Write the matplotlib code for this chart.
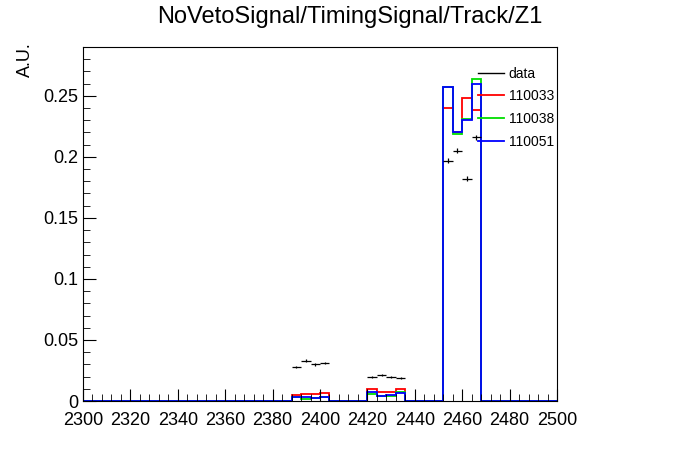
import numpy as np
import matplotlib
matplotlib.use("Agg")
import matplotlib.pyplot as plt
from matplotlib.ticker import MultipleLocator
from matplotlib.lines import Line2D

plt.rcParams['font.family'] = ['Liberation Sans', 'DejaVu Sans']

edges = np.arange(2300, 2504, 4)
def fill(d):
    v = np.zeros(len(edges) - 1)
    for k, val in d.items():
        v[np.where(edges[:-1] == k)[0][0]] = val
    return v

data_bins = [2388, 2392, 2396, 2400, 2420, 2424, 2428, 2432, 2452, 2456, 2460, 2464]
data_vals = [0.028, 0.033, 0.030, 0.031, 0.020, 0.021, 0.020, 0.019, 0.197, 0.205, 0.182, 0.216]
data_err = [0.001, 0.0012, 0.001, 0.001, 0.0008, 0.0008, 0.0008, 0.0008, 0.002, 0.002, 0.002, 0.002]
r_vals = [0.005, 0.0057, 0.0057, 0.0066, 0.0098, 0.0074, 0.0074, 0.0098, 0.240, 0.220, 0.248, 0.238]
g_vals = [0.003, 0.002, 0.0025, 0.003, 0.0057, 0.004, 0.004, 0.0074, 0.257, 0.219, 0.231, 0.264]
b_vals = [0.003, 0.003, 0.0025, 0.003, 0.0077, 0.004, 0.005, 0.0066, 0.257, 0.220, 0.230, 0.260]

fig = plt.figure(figsize=(6.96, 4.72), dpi=100)
ax = fig.add_axes([83/696, 1-401/472, (557-83)/696, (401-47)/472])
handles = [Line2D([], [], color="black", lw=1)]
labels = ["data"]
for vals, c, lab in [(r_vals, "red", "110033"), (g_vals, "#00dd00", "110038"), (b_vals, "blue", "110051")]:
    ax.stairs(fill(dict(zip(data_bins, vals))), edges, color=c, lw=1.3)
    handles.append(Line2D([], [], color=c, lw=1.3))
    labels.append(lab)
x = np.array(data_bins) + 2
ax.errorbar(x, data_vals, xerr=2, yerr=data_err, fmt="none", ecolor="black", lw=0.9)
ax.set_xlim(2300, 2500)
ax.set_ylim(0, 0.29)
ax.xaxis.set_major_locator(MultipleLocator(20))
ax.xaxis.set_minor_locator(MultipleLocator(4))
ax.yaxis.set_minor_locator(MultipleLocator(0.01))
ax.tick_params(which="both", direction="in", top=False, right=False, labelsize=13)
ax.tick_params(axis="x", pad=8)
ax.tick_params(which="major", length=9)
ax.tick_params(which="minor", length=5)
ax.set_yticks([0, 0.05, 0.1, 0.15, 0.2, 0.25])
ax.set_yticklabels(["0", "0.05", "0.1", "0.15", "0.2", "0.25"])
ax.legend(handles, labels, frameon=False, loc="upper left",
          bbox_to_anchor=(389/474, 0.96), fontsize=10, handlelength=1.9,
          handletextpad=0.35, labelspacing=0.62, borderaxespad=0)
fig.text(350/696, 1-17/472, "NoVetoSignal/TimingSignal/Track/Z1", ha="center", va="center", fontsize=17)
fig.text(25/696, 1-60/472, "A.U.", rotation=90, ha="center", va="center", fontsize=13)
fig.savefig("out.png", dpi=100)
